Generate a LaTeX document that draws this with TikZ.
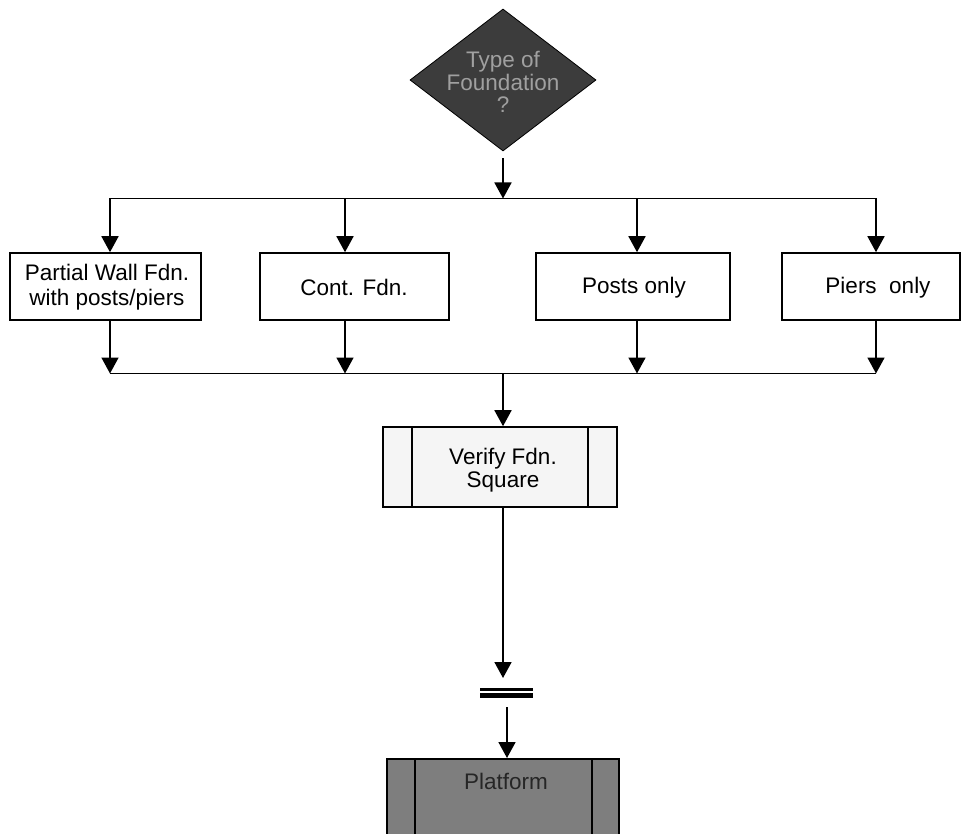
\documentclass[tikz,border=0pt]{standalone}
\usepackage{fontspec}
\setmainfont{Liberation Sans}
\usetikzlibrary{arrows.meta,shapes.geometric}
\definecolor{diafill}{HTML}{3C3C3C}
\definecolor{diatext}{HTML}{A0A0A0}
\definecolor{platfill}{HTML}{7E7E7E}
\tikzset{
  ln/.style={line width=1.7pt,draw=black},
  arr/.style={ln,-{Triangle[length=16pt,width=17pt]}},
  fbox/.style={draw=black,line width=1.6pt,rectangle,minimum height=67pt,inner sep=0pt},
  lbl/.style={font=\fontsize{22.5}{25}\selectfont,align=center,inner sep=0pt},
}
\begin{document}
\begin{tikzpicture}[x=1pt,y=-1pt]
\clip (0,0) rectangle (963,834);
\fill[white] (0,0) rectangle (963,834);
% decision diamond
\node[diamond,fill=diafill,draw=black,line width=0.8pt,minimum width=186pt,minimum height=142pt,inner sep=0pt] (dia) at (503,80) {};
\node[lbl,text=diatext,font=\fontsize{22.5}{22.5}\selectfont] (diatxt) at (503,82) {Type of\\Foundation\\?};
% bus top
\coordinate (bt0) at (503,198.5);
\coordinate (bt1) at (110,198.5);
\coordinate (bt2) at (345,198.5);
\coordinate (bt3) at (637,198.5);
\coordinate (bt4) at (876,198.5);
\draw[arr,shorten <=7pt] (dia.south) -- (bt0);
\draw[ln] (bt1) -- (bt4);
% boxes
\node[fbox,minimum width=191pt] (b1) at (105.5,286.5) {};
\node[lbl] (t1) at (107,287) {Partial Wall Fdn.\\with posts/piers};
\node[fbox,minimum width=189pt] (b2) at (354.5,286.5) {};
\node[lbl] (t2) at (354,287) {Cont. Fdn.};
\node[fbox,minimum width=194pt] (b3) at (633,286.5) {};
\node[lbl] (t3) at (634,288) {Posts only};
\node[fbox,minimum width=178pt] (b4) at (871,286.5) {};
\node[lbl] (t4) at (878,288) {Piers\ \ only};
\draw[arr] (bt1) -- (bt1 |- b1.north);
\draw[arr] (bt2) -- (bt2 |- b2.north);
\draw[arr] (bt3) -- (bt3 |- b3.north);
\draw[arr] (bt4) -- (bt4 |- b4.north);
% bus bottom
\coordinate (bb0) at (503,373.5);
\coordinate (bb1) at (110,373.5);
\coordinate (bb2) at (345,373.5);
\coordinate (bb3) at (637,373.5);
\coordinate (bb4) at (876,373.5);
\draw[arr] (bb1 |- b1.south) -- (bb1);
\draw[arr] (bb2 |- b2.south) -- (bb2);
\draw[arr] (bb3 |- b3.south) -- (bb3);
\draw[arr] (bb4 |- b4.south) -- (bb4);
\draw[ln] (bb1) -- (bb4);
% verify box
\node[fbox,fill=black!4,minimum width=234pt,minimum height=80pt] (ver) at (500,467) {};
\draw[ln,line width=1.5pt] (412,427) -- (412,507);
\draw[ln,line width=1.5pt] (588,427) -- (588,507);
\node[lbl,font=\fontsize{22.5}{22.5}\selectfont] (vtxt) at (503,470) {Verify Fdn.\\Square};
\draw[arr] (bb0) -- (bb0 |- ver.north);
% off-page break
\coordinate (brk) at (503,678);
\draw[arr] (brk |- ver.south) -- (brk);
\fill[black] (480,688.3) rectangle (533,691) coordinate (bar1);
\fill[black] (480,692.8) rectangle (533,697.6) coordinate (bar2);
\coordinate (cont) at (507,707);
% platform
\node[fbox,fill=platfill,minimum width=232pt,minimum height=110pt,anchor=north] (plat) at (503,758) {};
\draw[ln,line width=1.5pt] (415,758) -- (415,840);
\draw[ln,line width=1.5pt] (592,758) -- (592,840);
\node[lbl,text=black!85] (ptxt) at (506,781) {Platform};
\draw[arr] (cont) -- (cont |- plat.north);
\end{tikzpicture}
\end{document}
